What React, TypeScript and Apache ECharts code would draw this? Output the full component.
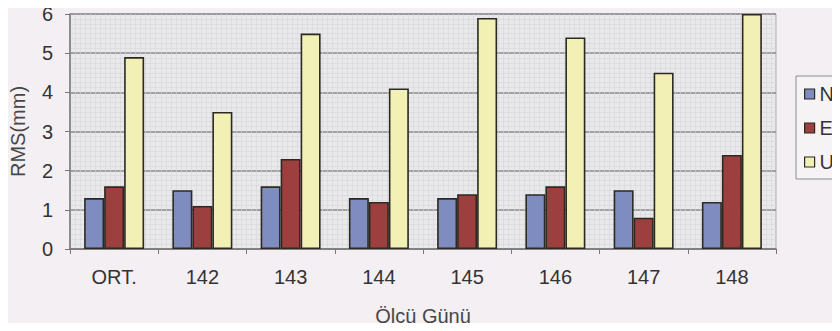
import React, { useEffect, useRef } from "react";
import * as echarts from "echarts";

// Measurement days and RMS values (mm) for each component
const days = ["ORT.", "142", "143", "144", "145", "146", "147", "148"];
const rmsN = [1.3, 1.5, 1.6, 1.3, 1.3, 1.4, 1.5, 1.2];
const rmsE = [1.6, 1.1, 2.3, 1.2, 1.4, 1.6, 0.8, 2.4];
const rmsU = [4.9, 3.5, 5.5, 4.1, 5.9, 5.4, 4.5, 6.0];
const yTicks = [0, 1, 2, 3, 4, 5, 6];

const FONT = "Liberation Sans, Arial, sans-serif";
const TEXT = "#333333";

export default function App() {
  const ref = useRef<HTMLDivElement>(null);

  useEffect(() => {
    if (!ref.current) return;
    const chart = echarts.init(ref.current, null, { renderer: "svg" });

    const bar = (name: string, data: number[], color: string) => ({
      name,
      type: "bar",
      data,
      xAxisIndex: 0,
      barWidth: 20,
      barGap: "0%",
      itemStyle: { color, borderColor: "#2b2a22", borderWidth: 1.6 },
    });

    chart.setOption({
      animation: false,
      backgroundColor: "#f4eff3",
      textStyle: { fontFamily: FONT },
      grid: {
        left: 68,
        right: 64,
        top: 14,
        bottom: 81,
        show: true,
        backgroundColor: "#e9e8ea",
        borderColor: "#a9a9a9",
        borderWidth: 1,
      },
      legend: {
        orient: "vertical",
        left: 796,
        top: 76,
        itemWidth: 10,
        itemHeight: 10,
        itemGap: 14,
        icon: "rect",
        padding: [8, 40, 7, 8],
        borderColor: "#8c8c8c",
        borderWidth: 1,
        backgroundColor: "#f6f3f5",
        textStyle: { fontSize: 20, color: TEXT, fontFamily: FONT, padding: [0, 0, 0, 0] },
        itemStyle: { borderColor: "#2b2a22", borderWidth: 1.2 },
        data: ["N", "E", "U"],
      },
      xAxis: [
        {
          type: "category",
          data: days,
          axisLine: { show: true, lineStyle: { color: "#777", width: 1.5 } },
          axisTick: { show: true, length: 5, lineStyle: { color: "#777" } },
          axisLabel: { fontSize: 20, color: TEXT, margin: 18, fontFamily: FONT },
          name: "Ölçü Günü",
          nameLocation: "middle",
          nameGap: 57,
          nameTextStyle: { fontSize: 20, color: "#474747", fontFamily: FONT },
          splitLine: { show: false },
        },
        {
          // fine vertical lines of the plot background
          type: "value",
          min: 0,
          max: 140,
          interval: 1,
          show: true,
          axisLine: { show: false },
          axisTick: { show: false },
          axisLabel: { show: false },
          splitLine: { show: true, lineStyle: { color: "#d6d5d8", width: 0.6 } },
        },
      ],
      yAxis: {
        type: "value",
        min: 0,
        max: 6,
        interval: 1,
        axisLine: { show: true, lineStyle: { color: "#777", width: 1.5 } },
        axisTick: { show: true, length: 5, lineStyle: { color: "#777" } },
        axisLabel: {
          fontSize: 20,
          color: TEXT,
          margin: 17,
          fontFamily: FONT,
          formatter: (v: number) => (yTicks.includes(v) ? String(v) : ""),
        },
        name: "RMS(mm)",
        nameLocation: "middle",
        nameGap: 42,
        nameRotate: 90,
        nameTextStyle: { fontSize: 20, color: "#474747", fontFamily: FONT },
        splitLine: { show: true, lineStyle: { color: "#8a8a8c", width: 1.5 } },
        minorTick: { show: false, splitNumber: 8 },
        minorSplitLine: { show: true, lineStyle: { color: "#d6d5d8", width: 0.6 } },
      },
      series: [
        bar("N", rmsN, "#7f8cc0"),
        bar("E", rmsE, "#9e3f3f"),
        bar("U", rmsU, "#f3f0b6"),
      ],
    });

    return () => chart.dispose();
  }, []);

  return <div ref={ref} style={{ width: 840, height: 331, margin: -8 }} />;
}
